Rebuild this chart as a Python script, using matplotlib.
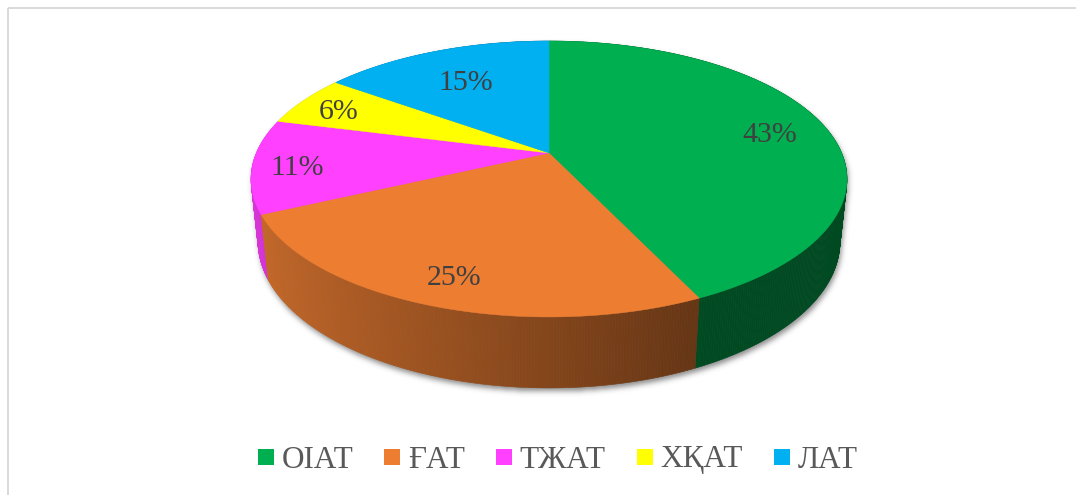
import numpy as np
import matplotlib
matplotlib.use('Agg')
import matplotlib.pyplot as plt
from matplotlib.patches import Polygon
from matplotlib.path import Path
from matplotlib.lines import Line2D
from matplotlib.font_manager import FontProperties

# ---------------- data ----------------
categories = ['ОІАТ', 'ҒАТ', 'ТЖАТ', 'ХҚАТ', 'ЛАТ']
shares = [43, 25, 11, 6, 15]
labels = ['43%', '25%', '11%', '6%', '15%']
colors = ['#00B050', '#ED7D31', '#FF40FF', '#FFFF00', '#00B0F0']

# ---------------- layout ----------------
W, H = 1076, 495
fig = plt.figure(figsize=(W / 100, H / 100), dpi=100)
ax = fig.add_axes([0, 0, 1, 1])
ax.set_xlim(0, W)
ax.set_ylim(H, 0)
ax.axis('off')

SERIF = ['Liberation Serif', 'DejaVu Serif']

# perspective projection of a flat cylinder (pixel space)
CX, CY = 549, 153
ELEV = np.radians(27.05)
S, C = np.sin(ELEV), np.cos(ELEV)
D = 4.729
F = 1384
THICK = 0.242
label_r = [0.80, 0.82, 0.85, 0.85, 0.70]
LABEL_DY = 4.5


def project(phi, r, y):
    x3 = r * np.sin(phi)
    z3 = -r * np.cos(phi)
    v = y * C - z3 * S
    w = D - (z3 * C + y * S)
    return CX + F * x3 / w, CY - F * v / w


def to_rgb(hexc):
    hexc = hexc.lstrip('#')
    return np.array([int(hexc[i:i + 2], 16) / 255 for i in (0, 2, 4)])


fr = np.array(shares, dtype=float) / np.sum(shares)
bounds = np.concatenate([[0], np.cumsum(fr)]) * 2 * np.pi

# ---------------- shadow ----------------
phi_all = np.linspace(0, 2 * np.pi, 721)
tx, ty = project(phi_all, 1.0, 0.0)
bx, by = project(phi_all, 1.0, -THICK)
pts = np.vstack([np.column_stack([tx, ty]), np.column_stack([bx, by])])


def hull(p):
    p = sorted(map(tuple, p))
    def cross(o, a, b):
        return (a[0] - o[0]) * (b[1] - o[1]) - (a[1] - o[1]) * (b[0] - o[0])
    lower, upper = [], []
    for q in p:
        while len(lower) >= 2 and cross(lower[-2], lower[-1], q) <= 0:
            lower.pop()
        lower.append(q)
    for q in reversed(p):
        while len(upper) >= 2 and cross(upper[-2], upper[-1], q) <= 0:
            upper.pop()
        upper.append(q)
    return np.array(lower[:-1] + upper[:-1])


sil = hull(pts)
gx, gy = np.meshgrid(np.arange(W) + 0.5, np.arange(H) + 0.5)
mask = Path(sil).contains_points(
    np.column_stack([gx.ravel() - 1.5, gy.ravel() - 3.5])).reshape(H, W).astype(float)


def blur(a, sigma):
    rad = int(3 * sigma)
    k = np.exp(-0.5 * (np.arange(-rad, rad + 1) / sigma) ** 2)
    k /= k.sum()
    a = np.apply_along_axis(lambda m: np.convolve(m, k, mode='same'), 0, a)
    a = np.apply_along_axis(lambda m: np.convolve(m, k, mode='same'), 1, a)
    return a


sh = blur(mask, 2.8)
rgba = np.zeros((H, W, 4))
rgba[..., :3] = 0.25
rgba[..., 3] = sh * 0.6
ax.imshow(rgba, extent=(0, W, H, 0), zorder=0, interpolation='bilinear')

# ---------------- sides ----------------
strips = []
for i, col in enumerate(colors):
    base = to_rgb(col)
    a0, a1 = bounds[i], bounds[i + 1]
    n = max(2, int(np.degrees(a1 - a0) / 0.5))
    ph = np.linspace(a0, a1, n + 1)
    for j in range(n):
        p1, p2 = ph[j], ph[j + 1]
        pm = 0.5 * (p1 + p2)
        shade = np.clip(0.555 - 0.30 * np.sin(pm), 0.42, 0.9)
        x1t, y1t = project(p1, 1, 0)
        x2t, y2t = project(p2, 1, 0)
        x2b, y2b = project(p2, 1, -THICK)
        x1b, y1b = project(p1, 1, -THICK)
        strips.append((-np.cos(pm), [(x1t, y1t), (x2t, y2t), (x2b, y2b), (x1b, y1b)],
                       np.clip(base * shade, 0, 1)))
strips.sort(key=lambda s: s[0])
for _, poly, c in strips:
    ax.add_patch(Polygon(poly, closed=True, facecolor=c, edgecolor=c, lw=0.4, zorder=2))

# ---------------- top faces ----------------
for i, col in enumerate(colors):
    a0, a1 = bounds[i], bounds[i + 1]
    ph = np.linspace(a0, a1, max(3, int(np.degrees(a1 - a0))))
    xs, ys = project(ph, 1, 0)
    poly = [(CX, CY)] + list(zip(xs, ys))
    ax.add_patch(Polygon(poly, closed=True, facecolor=col, edgecolor=col, lw=0.3, zorder=3))

# ---------------- data labels ----------------
for i, lab in enumerate(labels):
    pm = 0.5 * (bounds[i] + bounds[i + 1])
    lx, ly = project(pm, label_r[i], 0)
    ax.text(lx, ly + LABEL_DY, lab, ha='center', va='center', fontsize=21.5,
            color='#404040', family=SERIF, zorder=5)

# ---------------- frame ----------------
ax.plot([7.5, W], [8, 8], color='#D9D9D9', lw=1.4, zorder=1, solid_capstyle='butt')
ax.plot([7.5, 7.5], [8, H], color='#D9D9D9', lw=1.4, zorder=1, solid_capstyle='butt')

# ---------------- legend ----------------
handles = [Line2D([], [], marker='s', linestyle='', markersize=11,
                  markerfacecolor=c, markeredgewidth=0) for c in colors]
fig.legend(handles, categories, loc='center', bbox_to_anchor=(557 / W, 1 - 460 / H),
           ncol=5, frameon=False, prop=FontProperties(family=SERIF, size=22.5),
           labelcolor='#595959', handlelength=0.6, handletextpad=0.2,
           columnspacing=0.95, borderaxespad=0, borderpad=0)

fig.savefig('out.png', dpi=100)
